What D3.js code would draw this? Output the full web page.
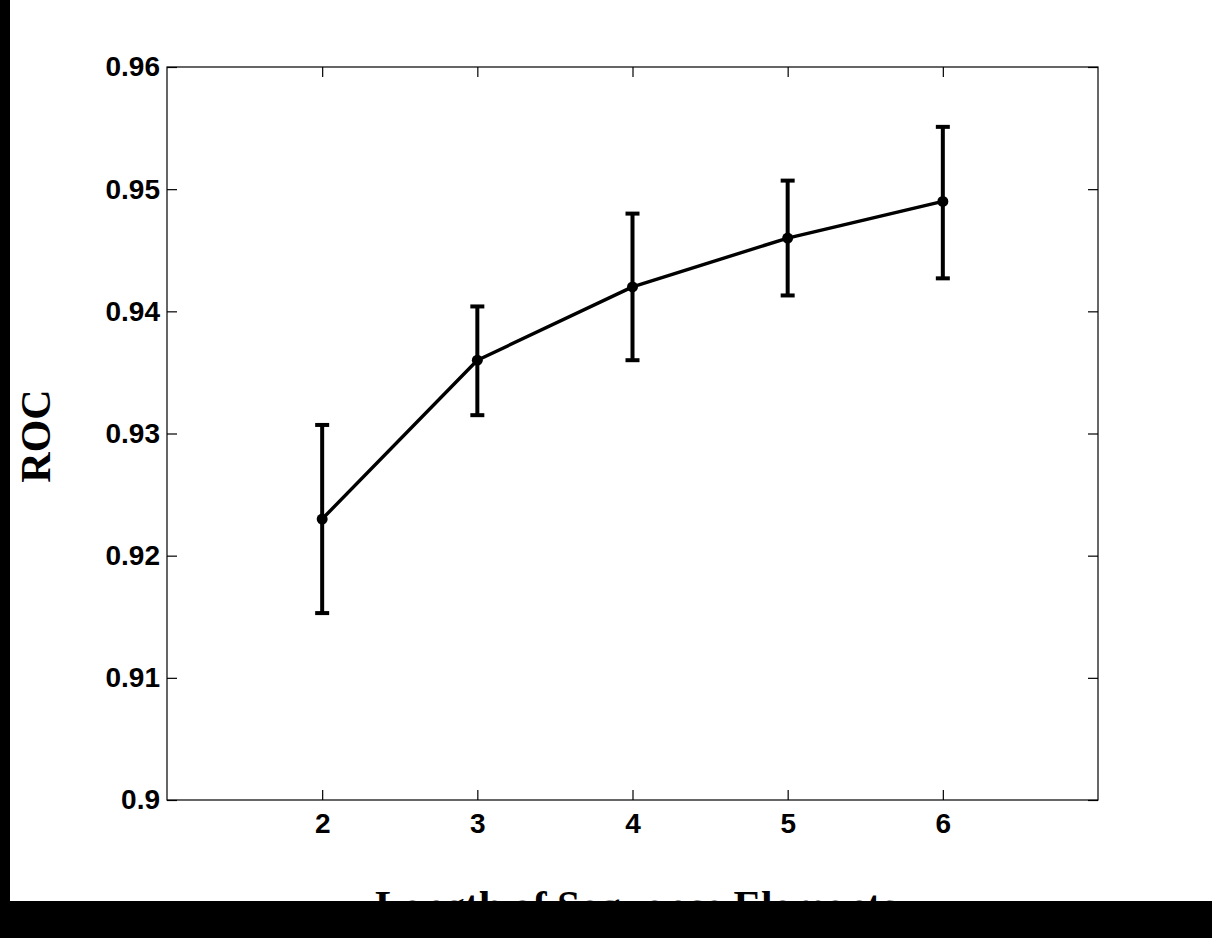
<!DOCTYPE html>
<html><head><meta charset="utf-8">
<script src="https://cdn.jsdelivr.net/npm/d3@7"></script>
<style>html,body{margin:0;padding:0;background:#fff;}svg{display:block;}</style>
</head><body>
<script>
const xValues = [2, 3, 4, 5, 6];
const rocValues = [0.923, 0.936, 0.942, 0.946, 0.949];
const errLow = [0.9153, 0.9315, 0.9360, 0.9413, 0.9427];
const errHigh = [0.9307, 0.9404, 0.9480, 0.9507, 0.9551];
const yTicks = [0.9, 0.91, 0.92, 0.93, 0.94, 0.95, 0.96];
const xTicks = [2, 3, 4, 5, 6];
const xLabel = "Length of Sequence Elements";
const yLabel = "ROC";

const W = 1212, H = 938;
const svg = d3.select("body").append("svg").attr("width", W).attr("height", H);
svg.append("rect").attr("width", W).attr("height", H).attr("fill", "#fff");

const L = 167, R = 1098, T = 67, B = 800;
const x = d3.scaleLinear().domain([1, 7]).range([L, R]);
const y = d3.scaleLinear().domain([0.9, 0.96]).range([B, T]);

const g = svg.append("g");
const tickLen = 10;
const fmtY = d => (d === 0.9 ? "0.9" : d3.format(".2f")(d));

// box
g.append("rect").attr("x", L).attr("y", T).attr("width", R - L).attr("height", B - T)
  .attr("fill", "none").attr("stroke", "#000").attr("stroke-width", 1.2);

// axes via d3
const axL = g.append("g").attr("transform", `translate(${L},0)`)
  .call(d3.axisLeft(y).tickValues(yTicks).tickSize(-tickLen).tickPadding(7).tickFormat(fmtY));
const axR = g.append("g").attr("transform", `translate(${R},0)`)
  .call(d3.axisRight(y).tickValues(yTicks).tickSize(-tickLen).tickFormat(""));
const axB = g.append("g").attr("transform", `translate(0,${B})`)
  .call(d3.axisBottom(x).tickValues(xTicks).tickSize(-tickLen).tickPadding(13).tickFormat(d3.format("d")));
const axT = g.append("g").attr("transform", `translate(0,${T})`)
  .call(d3.axisTop(x).tickValues(xTicks).tickSize(-tickLen).tickFormat(""));
[axL, axR, axB, axT].forEach(a => {
  a.attr("font-size", 28).attr("font-family", "Liberation Sans, Arial, sans-serif").attr("font-weight", "bold");
  a.select(".domain").remove();
  a.selectAll(".tick line").attr("stroke", "#000").attr("stroke-width", 1.2);
  a.selectAll("text").attr("fill", "#000");
});

// error bars
const data = xValues.map((v, i) => ({x: v, y: rocValues[i], lo: errLow[i], hi: errHigh[i]}));
const eb = g.append("g").attr("stroke", "#000").attr("stroke-width", 4);
data.forEach(d => {
  eb.append("line").attr("x1", x(d.x)).attr("x2", x(d.x)).attr("y1", y(d.lo)).attr("y2", y(d.hi));
  eb.append("line").attr("x1", x(d.x) - 7).attr("x2", x(d.x) + 7).attr("y1", y(d.lo)).attr("y2", y(d.lo));
  eb.append("line").attr("x1", x(d.x) - 7).attr("x2", x(d.x) + 7).attr("y1", y(d.hi)).attr("y2", y(d.hi));
});

// line
g.append("path").datum(data)
  .attr("d", d3.line().x(d => x(d.x)).y(d => y(d.y)))
  .attr("fill", "none").attr("stroke", "#000").attr("stroke-width", 3.4).attr("stroke-linejoin", "round");

// markers
g.selectAll("circle.m").data(data).enter().append("circle")
  .attr("cx", d => x(d.x)).attr("cy", d => y(d.y)).attr("r", 5.5).attr("fill", "#000");

// labels
svg.append("text").attr("x", 636).attr("y", 920).attr("text-anchor", "middle")
  .attr("font-family", "Liberation Serif, Times New Roman, serif").attr("font-weight", "bold")
  .attr("font-size", 41.5).attr("fill", "#000").text(xLabel);
svg.append("text").attr("transform", `translate(50,436) rotate(-90)`).attr("text-anchor", "middle")
  .attr("font-family", "Liberation Serif, Times New Roman, serif").attr("font-weight", "bold")
  .attr("font-size", 42).attr("fill", "#000").text(yLabel);

// black frame bands
svg.append("rect").attr("x", 0).attr("y", 0).attr("width", 10).attr("height", H).attr("fill", "#000");
svg.append("rect").attr("x", 0).attr("y", 901).attr("width", W).attr("height", H - 901).attr("fill", "#000");
</script>
</body></html>
